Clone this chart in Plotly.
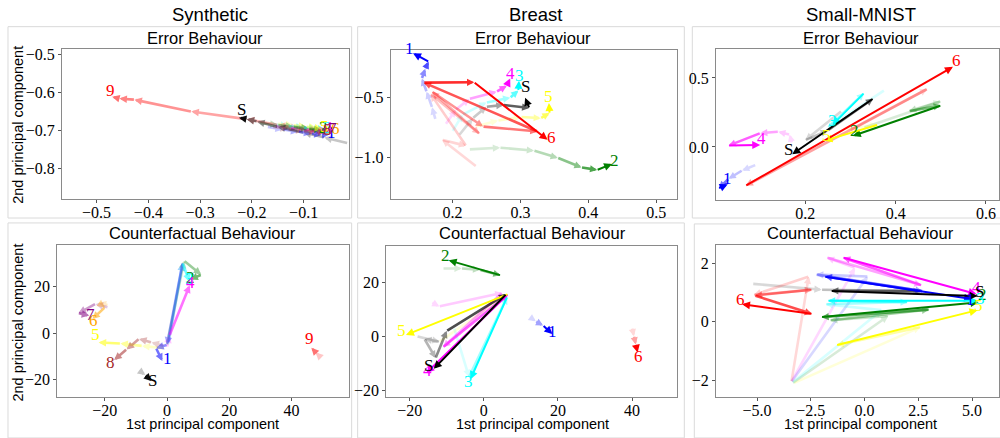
import plotly.graph_objects as go

W, H = 1000, 438

# ---------------- data ----------------
# Synthetic - error behaviour
syn_err_x = {
    "1": [-0.17, -0.14, -0.11, -0.085, -0.065, -0.05],
    "2": [-0.185, -0.15, -0.12, -0.09, -0.065],
    "3": [-0.16, -0.13, -0.10, -0.075, -0.058],
    "4": [-0.155, -0.125, -0.095, -0.072, -0.056],
    "5": [-0.15, -0.12, -0.095, -0.075, -0.064],
    "6": [-0.13, -0.10, -0.075, -0.055, -0.042],
    "7": [-0.14, -0.11, -0.085, -0.062, -0.049],
    "8": [-0.16, -0.13, -0.10, -0.075, -0.058],
    "9": [-0.08, -0.15, -0.21, -0.317, -0.427, -0.456, -0.470],
    "S": [-0.015, -0.06, -0.10, -0.15, -0.19, -0.21, -0.225],
}
syn_err_y = {
    "1": [-0.690, -0.697, -0.703, -0.708, -0.711, -0.709],
    "2": [-0.680, -0.685, -0.690, -0.695, -0.698],
    "3": [-0.683, -0.688, -0.692, -0.695, -0.697],
    "4": [-0.688, -0.693, -0.697, -0.699, -0.698],
    "5": [-0.682, -0.686, -0.690, -0.693, -0.695],
    "6": [-0.690, -0.695, -0.699, -0.701, -0.700],
    "7": [-0.688, -0.694, -0.699, -0.702, -0.700],
    "8": [-0.690, -0.696, -0.701, -0.704, -0.703],
    "9": [-0.700, -0.685, -0.670, -0.650, -0.619, -0.616, -0.611],
    "S": [-0.733, -0.718, -0.705, -0.690, -0.676, -0.670, -0.666],
}

# Synthetic - counterfactual behaviour
syn_cf_x = {
    "1": [0.5, 5.0, 0.0, -3.5, -1.5],
    "2": [0.0, 5.5, 11.0, 7.5],
    "3": [0.3, 5.0, 7.2],
    "4": [0.0, 0.8, 7.3],
    "5": [-1.0, -8.0, -15.0, -22.0],
    "6": [-19.0, -22.0, -20.0, -24.0],
    "7": [-19.0, -23.0, -28.5, -25.0],
    "8": [-1.0, -5.0, -9.0, -13.0, -17.0],
    "9": [49.5, 47.8, 46.4],
    "S": [-9.0, -7.0, -5.0],
}
syn_cf_y = {
    "1": [-4.0, 30.0, -5.0, -6.5, -12.0],
    "2": [-5.0, 31.0, 25.0, 23.0],
    "3": [-5.0, 30.0, 22.0],
    "4": [-6.0, -1.0, 20.5],
    "5": [-6.5, -5.5, -4.5, -4.0],
    "6": [12.0, 13.0, 11.0, 6.0],
    "7": [11.0, 12.5, 8.5, 7.5],
    "8": [-5.5, -4.0, -2.5, -7.0, -11.5],
    "9": [-10.5, -8.3, -6.3],
    "S": [-16.0, -18.0, -20.5],
}

# Breast - error behaviour
br_err_x = {
    "1": [0.175, 0.170, 0.162, 0.155, 0.160, 0.165, 0.142],
    "2": [0.225, 0.27, 0.32, 0.355, 0.39, 0.413, 0.435],
    "3": [0.20, 0.215, 0.25, 0.285, 0.297, 0.298],
    "4": [0.19, 0.205, 0.225, 0.265, 0.28, 0.285],
    "5": [0.235, 0.267, 0.301, 0.33, 0.343, 0.342],
    "6": [0.235, 0.185, 0.22, 0.168, 0.24, 0.17, 0.245, 0.325, 0.158, 0.232, 0.34],
    "S": [0.21, 0.23, 0.25, 0.275, 0.313, 0.307],
}
br_err_y = {
    "1": [-0.68, -0.58, -0.45, -0.34, -0.26, -0.20, -0.13],
    "2": [-0.93, -0.915, -0.94, -1.0, -1.08, -1.10, -1.05],
    "3": [-0.78, -0.64, -0.54, -0.50, -0.44, -0.36],
    "4": [-0.72, -0.60, -0.51, -0.45, -0.40, -0.34],
    "5": [-0.738, -0.69, -0.66, -0.67, -0.628, -0.545],
    "6": [-1.07, -0.85, -0.90, -0.47, -0.80, -0.45, -0.74, -0.78, -0.375, -0.372, -0.85],
    "S": [-0.81, -0.67, -0.575, -0.56, -0.585, -0.50],
}

# Breast - counterfactual behaviour
br_cf_x = {
    "1": [12.5, 14.0, 16.0, 18.5],
    "2": [-11.0, -6.0, -1.0, 4.5, -9.5],
    "3": [-8.0, -4.0, 6.3, -3.6],
    "4": [-14.0, -12.0, 5.0, -11.0, 6.5, -15.5],
    "5": [-12.0, 6.5, -21.0],
    "6": [40.0, 40.5, 41.0, 41.5],
    "S": [-18.0, -12.0, -16.0, -13.0, -10.0, 6.0, -13.5],
}
br_cf_y = {
    "1": [7.0, 5.5, 4.0, 0.8],
    "2": [25.0, 25.0, 24.5, 22.5, 28.0],
    "3": [3.0, -15.0, 14.5, -15.8],
    "4": [12.5, 11.0, 16.0, -4.0, 15.5, -13.5],
    "5": [-2.0, 15.5, 0.5],
    "6": [3.0, 0.0, -3.0, -6.0],
    "S": [0.0, -2.0, -1.0, -8.0, 2.0, 15.5, -12.0],
}

# Small-MNIST - error behaviour
mn_err_x = {
    "1": [0.09, 0.06, 0.03, 0.008, 0.028],
    "2": [0.33, 0.50, 0.43, 0.50, 0.305],
    "3": [0.375, 0.25, 0.33, 0.26],
    "4": [0.17, 0.165, 0.14, 0.10, 0.03, 0.10],
    "5": [0.29, 0.36, 0.242],
    "6": [0.30, 0.47, 0.068, 0.527],
    "S": [0.28, 0.20, 0.25, 0.35, 0.171],
}
mn_err_y = {
    "1": [-0.13, -0.17, -0.23, -0.30, -0.27],
    "2": [0.14, 0.33, 0.26, 0.30, 0.08],
    "3": [0.41, 0.14, 0.39, 0.16],
    "4": [0.03, 0.09, 0.11, 0.10, 0.01, 0.015],
    "5": [0.13, 0.16, 0.045],
    "6": [0.12, 0.42, -0.28, 0.58],
    "S": [0.26, 0.05, 0.12, 0.35, -0.052],
}

# Small-MNIST - counterfactual behaviour
mn_cf_x = {
    "1": [-3.4, 0.15, -2.25, 2.7, -1.85, 5.0],
    "2": [-3.35, 1.1, -1.6, 3.0, -2.0, 5.3],
    "3": [-3.35, 0.8, -1.8, 2.0, -1.7, 5.25],
    "4": [-3.4, -0.45, -1.75, 2.65, -1.0, 5.2],
    "5": [-3.3, 2.6, -1.3, 5.25],
    "6": [-3.4, -2.6, -5.15, -2.45, -5.1, -2.45, -5.7],
    "S": [-5.2, -2.0, 2.6, -1.55, 5.25],
}
mn_cf_y = {
    "1": [-2.05, 1.55, 1.62, 1.05, 1.55, 0.78],
    "2": [-2.1, 0.2, 0.05, 0.42, 0.16, 0.67],
    "3": [-2.08, 0.4, 0.6, 0.68, 0.72, 0.72],
    "4": [-2.05, 1.85, 2.2, 1.25, 2.2, 0.95],
    "5": [-2.1, -0.18, -0.8, 0.4],
    "6": [-2.05, 1.55, 0.92, 1.1, 0.9, 0.27, 0.6],
    "S": [1.3, 1.1, 1.05, 1.06, 0.88],
}

column_titles = ["Synthetic", "Breast", "Small-MNIST"]
row_titles = ["Error Behaviour", "Counterfactual Behaviour"]
x_title = "1st principal component"
y_title = "2nd principal component"

# ---------------- styles ----------------
PAL = {"1": (0, 0, 255), "2": (0, 128, 0), "3": (0, 255, 255), "4": (255, 0, 255),
       "5": (255, 255, 0), "6": (255, 0, 0), "7": (128, 0, 128), "8": (165, 42, 42),
       "9": (255, 0, 0), "S": (0, 0, 0)}
SYN_PAL = dict(PAL)
SYN_PAL["6"] = (255, 165, 0)

SERIF = "Liberation Serif, DejaVu Serif, serif"
SANS = "Liberation Sans, Arial, sans-serif"

panels = [
    dict(x=syn_err_x, y=syn_err_y, pal=SYN_PAL, syn=True,
         dom=(62, 349, 47, 199), xr=(-0.567, -0.013), yr=(-0.88, -0.487),
         xd=0.1, yd=0.1, xf=".1f", yf=".1f",
         sh={"9": (-2, 6), "S": (3, 8)}, dsh=(2, 2)),
    dict(x=br_err_x, y=br_err_y, pal=PAL, syn=False,
         dom=(391, 678, 47.7, 199), xr=(0.109, 0.531), yr=(-1.344, -0.104),
         xd=0.1, yd=0.5, xf=".1f", yf=".1f",
         sh={"1": (-4, 5), "2": (2, 3), "3": (0, 5), "4": (0, 5), "S": (0, 11),
             "5": (0, 7), "6": (4, 2)}, dsh=(2, 4)),
    dict(x=mn_err_x, y=mn_err_y, pal=PAL, syn=False,
         dom=(716.7, 1000, 46.7, 200), xr=(0.002, 0.629), yr=(-0.386, 0.709),
         xd=0.2, yd=0.5, xf=".1f", yf=".1f",
         sh={"6": (4, 6), "S": (-4, 5), "3": (0, 4), "2": (2, 5), "5": (2, 5),
             "4": (1, 6), "1": (0, 6)}, dsh=(2, 4)),
    dict(x=syn_cf_x, y=syn_cf_y, pal=SYN_PAL, syn=True,
         dom=(57.3, 349, 245.7, 399), xr=(-35.3, 58.4), yr=(-27.2, 37.6),
         xd=20, yd=20, xf="d", yf="d",
         sh={"9": (-2, 9), "S": (1, 0), "1": (5, 3), "5": (-3, 8), "8": (-4, -3),
             "7": (1, 1), "6": (1, -1), "4": (1, 3), "3": (0, 3), "2": (0, 2)}, dsh=(2, 2)),
    dict(x=br_cf_x, y=br_cf_y, pal=PAL, syn=False,
         dom=(386.7, 678, 246.3, 399), xr=(-26.3, 52.2), yr=(-22.2, 33.3),
         xd=20, yd=20, xf="d", yf="d",
         sh={"2": (-3, 5), "5": (-4, 4), "1": (0, 3), "6": (1, -4), "3": (-2, -2),
             "4": (1, 2), "S": (-5, 3)}, dsh=(2, 4)),
    dict(x=mn_cf_x, y=mn_cf_y, pal=PAL, syn=False,
         dom=(716.7, 1000, 245.7, 399), xr=(-6.91, 6.25), yr=(-2.56, 2.62),
         xd=2.5, yd=2, xf=".1f", yf="d",
         sh={"6": (-2, 5), "4": (0, 7), "1": (-2, 0), "S": (2, 5), "3": (3, 2),
             "2": (4, 8), "5": (1, 5)}, dsh=(2, 4)),
]


def fx(px):
    return px / W


def fy(py):
    return 1 - py / H


def rgba(c, a):
    return "rgba(%d,%d,%d,%.3f)" % (c[0], c[1], c[2], a)


fig = go.Figure()
annotations = []
layout = {}

for i, p in enumerate(panels, start=1):
    sfx = "" if i == 1 else str(i)
    xref, yref = "x" + sfx, "y" + sfx
    l, r, t, b = p["dom"]
    common = dict(showgrid=False, zeroline=False, showline=True, mirror=True,
                  linecolor="#8a8a8a", linewidth=1, ticks="outside", ticklen=3,
                  tickcolor="#555555", tickfont=dict(family=SERIF, size=16, color="black"))
    xfmt = "" if p["xf"] == "d" else p["xf"]
    yfmt = "" if p["yf"] == "d" else p["yf"]
    layout["xaxis" + sfx] = dict(common, domain=[fx(l), fx(r)], range=list(p["xr"]),
                                 anchor=yref, dtick=p["xd"], tick0=0, tickformat=xfmt,
                                 ticklabelstandoff=-4)
    layout["yaxis" + sfx] = dict(common, domain=[fy(b), fy(t)], range=list(p["yr"]),
                                 anchor=xref, dtick=p["yd"], tick0=0, tickformat=yfmt)

    # invisible points so the subplot exists and carries the data
    allx, ally = [], []
    for k in p["x"]:
        allx += p["x"][k]
        ally += p["y"][k]
    fig.add_trace(go.Scatter(x=allx, y=ally, mode="markers", xaxis=xref, yaxis=yref,
                             marker=dict(size=1, opacity=0), hoverinfo="skip",
                             showlegend=False))

    segs = []
    for k in p["x"]:
        xs, ys = p["x"][k], p["y"][k]
        n = len(xs) - 1
        for j in range(n):
            f = j / (n - 1) if n > 1 else 1.0
            last = (j == n - 1)
            if p["syn"]:
                a = 0.22 + 0.33 * f
                if k == "S" and last:
                    a = 0.95
                w, s = 2.6, 0.58
            else:
                a = 0.15 + 0.85 * f ** 2
                w, s = (2.0, 0.8) if last else (2.6, 0.55)
            segs.append((a, k, xs[j], ys[j], xs[j + 1], ys[j + 1], w, s))
    segs.sort(key=lambda q: q[0])
    for a, k, x0, y0, x1, y1, w, s in segs:
        annotations.append(dict(x=x1, y=y1, ax=x0, ay=y0, xref=xref, yref=yref,
                                axref=xref, ayref=yref, text="", showarrow=True,
                                font=dict(size=1), borderpad=0,
                                arrowhead=2, arrowsize=s, arrowwidth=w,
                                arrowcolor=rgba(p["pal"][k], a), standoff=0))
    # labels at trajectory ends
    for k in p["x"]:
        dx, dy = p["sh"].get(k, p["dsh"])
        annotations.append(dict(x=p["x"][k][-1], y=p["y"][k][-1], xref=xref, yref=yref,
                                text=k, showarrow=False, xshift=dx, yshift=dy,
                                font=dict(family=SERIF, size=17, color=rgba(p["pal"][k], 1))))

# texts: column titles, subplot titles, axis titles
col_x = [210, 536, 861.7]
for cx, txt in zip(col_x, column_titles):
    annotations.append(dict(x=fx(cx), y=fy(11.5), xref="paper", yref="paper", text=txt,
                            showarrow=False, xanchor="center", yanchor="middle",
                            font=dict(family=SANS, size=18.5, color="black")))
sub_pos = [(205, 35.5), (533.3, 35.5), (861.7, 35.5), (203, 233), (532.7, 233), (861.7, 233)]
for idx, (sx, sy) in enumerate(sub_pos):
    annotations.append(dict(x=fx(sx), y=fy(sy), xref="paper", yref="paper",
                            text=row_titles[idx // 3], showarrow=False,
                            xanchor="center", yanchor="middle",
                            font=dict(family=SANS, size=16.5, color="black")))
for sx in [203, 532.7, 861.7]:
    annotations.append(dict(x=fx(sx), y=fy(427), xref="paper", yref="paper", text=x_title,
                            showarrow=False, xanchor="center", yanchor="middle",
                            font=dict(family=SANS, size=14.5, color="black")))
for sy in [123.5, 324]:
    annotations.append(dict(x=fx(18), y=fy(sy), xref="paper", yref="paper", text=y_title,
                            showarrow=False, textangle=-90, xanchor="center", yanchor="middle",
                            font=dict(family=SANS, size=14.5, color="black")))

# light frames around each panel image
frames = [(8, 24, 352, 218), (358, 24, 685, 218), (693, 24, 1003, 218),
          (8, 223, 352, 441), (358, 223, 685, 441), (695, 224, 1003, 441)]
shapes = [dict(type="rect", xref="paper", yref="paper", x0=fx(a), x1=fx(c), y0=fy(d), y1=fy(b),
               line=dict(color="#dadada", width=1), layer="below") for a, b, c, d in frames]

fig.update_layout(width=W, height=H, margin=dict(l=0, r=0, t=0, b=0),
                  paper_bgcolor="white", plot_bgcolor="white",
                  annotations=annotations, shapes=shapes, showlegend=False, **layout)

fig.write_html("out.html", config={"displayModeBar": False},
               post_script="document.body.style.margin='0px';document.body.style.overflow='hidden';")
